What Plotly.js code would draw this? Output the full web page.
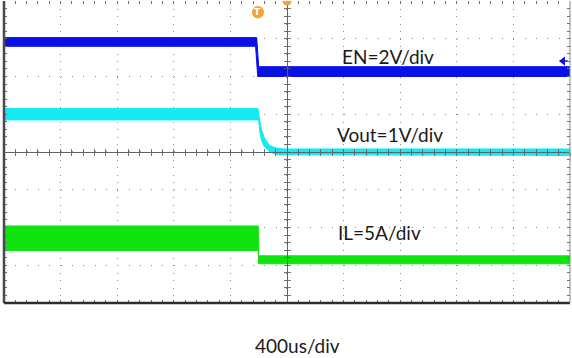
<!DOCTYPE html>
<html>
<head>
<meta charset="utf-8">
<script src="https://cdn.plot.ly/plotly-3.0.1.min.js"></script>
<style>html,body{margin:0;padding:0;background:#fff;}#chart{width:572px;height:358px;}</style>
</head>
<body>
<div id="chart"></div>
<script>
// time in microseconds (400 us/div, 10 div), amplitude in screen divisions (8 div)
const enTimeUpper = [-2000, -214, -200, 2000];
const enUpper     = [3.03, 3.03, 2.26, 2.26];
const enTimeLower = [-2000, -222, -207, 2000];
const enLower     = [2.80, 2.80, 2.00, 2.00];

const voutTimeUpper = [-2000, -205, -196, -179, -163, -143, -120, -99, -64, -28, 2000];
const voutUpper     = [1.15, 1.15, 0.90, 0.58, 0.40, 0.27, 0.17, 0.13, 0.10, 0.08, 0.08];
const voutTimeLower = [-2000, -200, -191, -179, -163, -143, -120, -99, -64, 2000];
const voutLower     = [0.85, 0.85, 0.50, 0.30, 0.16, 0.08, 0.00, -0.03, -0.07, -0.09];

const ilTimeUpper = [-2000, -203, -201, 2000];
const ilUpper     = [-1.96, -1.96, -2.75, -2.75];
const ilTimeLower = [-2000, -203, -201, 2000];
const ilLower     = [-2.61, -2.61, -2.96, -2.96];

const groundLevels = [2.12, 0.0, -2.90];
const labels = ["EN=2V/div", "Vout=1V/div", "IL=5A/div"];
const timebaseLabel = "400us/div";

const BLUE = '#0a10e8', CYAN = '#14eaf2', GREEN = '#10e410';

function band(tl, yl, tu, yu, color) {
  return [
    {x: tl, y: yl, mode: 'lines', line: {color: color, width: 1}, hoverinfo: 'skip'},
    {x: tu, y: yu, mode: 'lines', fill: 'tonexty', fillcolor: color, line: {color: color, width: 1}, hoverinfo: 'skip'}
  ];
}

const traces = [].concat(
  band(enTimeLower, enLower, enTimeUpper, enUpper, BLUE),
  band(voutTimeLower, voutLower, voutTimeUpper, voutUpper, CYAN),
  band(ilTimeLower, ilLower, ilTimeUpper, ilUpper, GREEN),
  [{x: [-2025, -2025, -2025], y: groundLevels, mode: 'markers', cliponaxis: false,
    marker: {symbol: 'triangle-right', size: 7, color: [BLUE, CYAN, GREEN]}, hoverinfo: 'skip'},
   {x: [1950], y: [2.41], mode: 'markers', cliponaxis: false,
    marker: {symbol: 'triangle-left', size: 8, color: BLUE}, hoverinfo: 'skip'},
   {x: [1950, 1985], y: [2.41, 2.41], mode: 'lines', cliponaxis: false,
    line: {color: BLUE, width: 1.5}, hoverinfo: 'skip'},
   {x: [], y: [], xaxis: 'x2', yaxis: 'y'},
   {x: [], y: [], xaxis: 'x3', yaxis: 'y'},
   {x: [], y: [], xaxis: 'x', yaxis: 'y2'},
   {x: [], y: [], xaxis: 'x', yaxis: 'y3'}]
);

const tickCol = '#707070';
const centerCol = 'rgba(95,95,95,0.85)';
function centerAxis(extra) {
  return Object.assign({showgrid: false, zeroline: false, showline: true, linecolor: centerCol,
    linewidth: 1, ticklen: 3, tickcolor: centerCol, showticklabels: false, anchor: 'free',
    position: 0.5, fixedrange: true}, extra);
}

const layout = {
  width: 572, height: 358,
  margin: {l: 4, r: 2, t: 1, b: 55},
  paper_bgcolor: '#ffffff', plot_bgcolor: '#ffffff',
  showlegend: false,
  xaxis: {range: [-2000, 2000], tick0: 0, dtick: 400, showgrid: true, gridcolor: '#8a8a8a',
    gridwidth: 1.2, griddash: '1px,6.55px', zeroline: false, showline: false,
    ticks: 'inside', ticklen: 3, tickcolor: tickCol, mirror: 'ticks', showticklabels: false,
    minor: {dtick: 80, tick0: 0, ticks: 'inside', ticklen: 3, tickcolor: tickCol, showgrid: false},
    fixedrange: true},
  yaxis: {range: [-4, 4], tick0: 0, dtick: 1, showgrid: true, gridcolor: '#8a8a8a',
    gridwidth: 1.2, griddash: '1px,10.32px', zeroline: false, showline: false,
    ticks: 'inside', ticklen: 3, tickcolor: tickCol, mirror: 'ticks', showticklabels: false,
    minor: {dtick: 0.2, tick0: 0, ticks: 'inside', ticklen: 3, tickcolor: tickCol, showgrid: false},
    fixedrange: true},
  xaxis2: centerAxis({overlaying: 'x', range: [-2000, 2000], dtick: 80, tick0: 0, ticks: 'outside'}),
  xaxis3: centerAxis({overlaying: 'x', range: [-2000, 2000], dtick: 80, tick0: 0, ticks: 'inside'}),
  yaxis2: centerAxis({overlaying: 'y', range: [-4, 4], dtick: 0.2, tick0: 0, ticks: 'outside'}),
  yaxis3: centerAxis({overlaying: 'y', range: [-4, 4], dtick: 0.2, tick0: 0, ticks: 'inside'}),
  shapes: [
    {type: 'line', xref: 'paper', yref: 'paper', x0: 0, x1: 0, y0: 0, y1: 1, line: {color: '#4a4a4a', width: 2.5}},
    {type: 'line', xref: 'paper', yref: 'paper', x0: 0, x1: 1, y0: 0, y1: 0, line: {color: '#2e2e2e', width: 2.5}},
    {type: 'line', xref: 'paper', yref: 'paper', x0: 1, x1: 1, y0: 0, y1: 1, line: {color: '#8a8a8a', width: 1}},
    {type: 'circle', xref: 'x', yref: 'y', xsizemode: 'pixel', ysizemode: 'pixel',
     xanchor: -205, yanchor: 3.71, x0: -6, x1: 6, y0: -6.5, y1: 6,
     fillcolor: '#f5a236', line: {width: 0}},
    {type: 'circle', xref: 'x', yref: 'y', xsizemode: 'pixel', ysizemode: 'pixel',
     xanchor: 0, yanchor: 4, x0: -4.5, x1: 4.5, y0: -4.5, y1: 4.5,
     fillcolor: '#f5a236', line: {width: 0}}
  ],
  annotations: [
    {x: -205, y: 3.72, xref: 'x', yref: 'y', text: '<b>T</b>', showarrow: false,
     font: {family: 'DejaVu Sans', size: 9, color: '#ffffff'}},
    {x: 712, y: 2.52, xref: 'x', yref: 'y', text: labels[0], showarrow: false,
     font: {family: 'Lato', size: 19, color: '#1a1a1a'}},
    {x: 731, y: 0.46, xref: 'x', yref: 'y', text: labels[1], showarrow: false,
     font: {family: 'Lato', size: 19, color: '#1a1a1a'}},
    {x: 657, y: -2.13, xref: 'x', yref: 'y', text: labels[2], showarrow: false,
     font: {family: 'Lato', size: 19, color: '#1a1a1a'}},
    {x: 0.518, y: -0.141, xref: 'paper', yref: 'paper', text: timebaseLabel, showarrow: false,
     yanchor: 'middle', font: {family: 'Lato', size: 19, color: '#1a1a1a'}}
  ]
};

Plotly.newPlot('chart', traces, layout, {staticPlot: true, displayModeBar: false});
</script>
</body>
</html>
